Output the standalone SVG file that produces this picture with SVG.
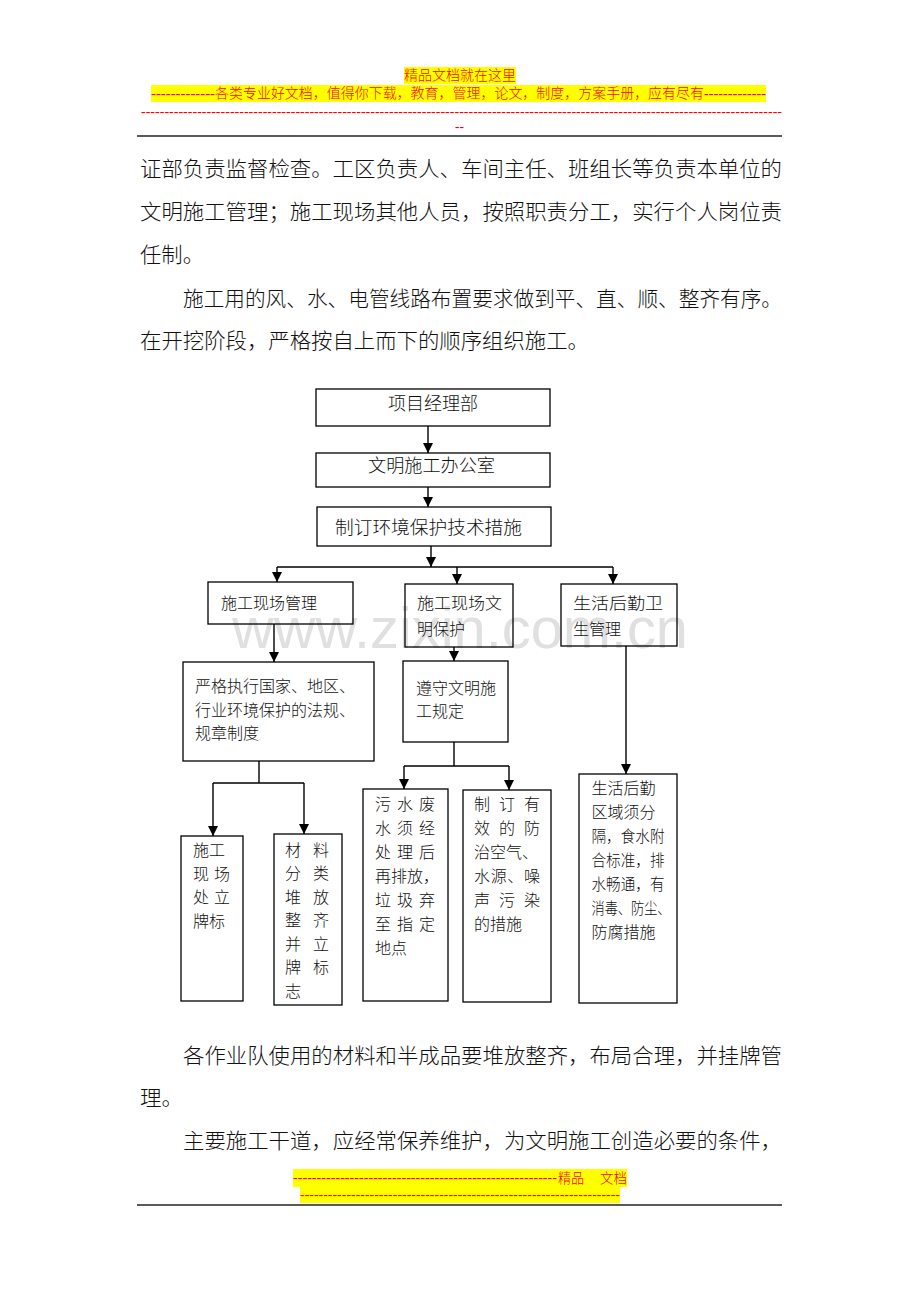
<svg xmlns="http://www.w3.org/2000/svg" width="920" height="1302" viewBox="0 0 920 1302">
<style>
.cjk{font-family:"Noto Sans CJK SC","Noto Sans CJK TC",sans-serif;fill:#111;font-weight:300;}
.body{font-size:21px;}
.hdr{font-family:"Noto Sans CJK SC",sans-serif;font-size:14px;fill:#ff0000;font-weight:300;}
.dash{font-family:"Liberation Serif","Noto Sans CJK SC",serif;font-size:14px;fill:#ff0000;}
.yel{fill:#ffff00;}
.box{fill:none;stroke:#000;stroke-width:1.3;}
.big{font-size:18px;}
.sm{font-size:16px;}
.conn line,.conn polyline{stroke:#000;stroke-width:1.4;fill:none;}
.wm{font-family:"Liberation Sans",Arial,sans-serif;font-size:57px;fill:#e0e0e0;}
</style>
<defs>
<marker id="arr" markerUnits="userSpaceOnUse" markerWidth="10" markerHeight="11" refX="10" refY="5" orient="auto">
<path d="M0,0 L10,5 L0,10 z" fill="#000"/>
</marker>
</defs>
<rect width="920" height="1302" fill="#fff"/>

<g id="header">
<rect class="yel" x="404" y="67" width="112" height="17"/>
<text class="hdr" x="404" y="80" textLength="112" lengthAdjust="spacingAndGlyphs">精品文档就在这里</text>
<rect class="yel" x="151" y="85" width="615" height="17"/>
<text class="dash" x="151" y="98" textLength="64" lengthAdjust="spacingAndGlyphs">-------------</text>
<text class="hdr" x="215" y="98" textLength="489" lengthAdjust="spacingAndGlyphs">各类专业好文档，值得你下载，教育，管理，论文，制度，方案手册，应有尽有</text>
<text class="dash" x="704" y="98" textLength="62" lengthAdjust="spacingAndGlyphs">-------------</text>
<text class="dash" x="141" y="116" textLength="641" lengthAdjust="spacingAndGlyphs">-----------------------------------------------------------------------------------------------------------------------------------------</text>
<text class="dash" x="455" y="131" textLength="9" lengthAdjust="spacingAndGlyphs">--</text>
<line x1="137" y1="136" x2="782" y2="136" stroke="#5a5a5a" stroke-width="2"/>
</g>

<g id="bodytext" class="cjk body">
<text x="140" y="176" textLength="642" lengthAdjust="spacingAndGlyphs">证部负责监督检查。工区负责人、车间主任、班组长等负责本单位的</text>
<text x="140" y="219" textLength="642" lengthAdjust="spacingAndGlyphs">文明施工管理；施工现场其他人员，按照职责分工，实行个人岗位责</text>
<text x="140" y="262" textLength="64" lengthAdjust="spacingAndGlyphs">任制。</text>
<text x="183" y="306" textLength="599" lengthAdjust="spacingAndGlyphs">施工用的风、水、电管线路布置要求做到平、直、顺、整齐有序。</text>
<text x="140" y="348" textLength="449" lengthAdjust="spacingAndGlyphs">在开挖阶段，严格按自上而下的顺序组织施工。</text>
<text x="183" y="1063" textLength="599" lengthAdjust="spacingAndGlyphs">各作业队使用的材料和半成品要堆放整齐，布局合理，并挂牌管</text>
<text x="140" y="1105" textLength="43" lengthAdjust="spacingAndGlyphs">理。</text>
<text x="183" y="1148" textLength="599" lengthAdjust="spacingAndGlyphs">主要施工干道，应经常保养维护，为文明施工创造必要的条件，</text>
</g>

<text class="wm" x="232" y="648" textLength="456" lengthAdjust="spacingAndGlyphs">www.zixin.com.cn</text>

<g id="connectors" class="conn">
<line x1="428" y1="426" x2="428" y2="453" marker-end="url(#arr)"/>
<line x1="428" y1="487" x2="428" y2="507" marker-end="url(#arr)"/>
<line x1="431" y1="546" x2="431" y2="567" marker-end="url(#arr)"/>
<line x1="277" y1="567" x2="613" y2="567"/>
<line x1="277" y1="567" x2="277" y2="582" marker-end="url(#arr)"/>
<line x1="457" y1="567" x2="457" y2="584" marker-end="url(#arr)"/>
<line x1="613" y1="567" x2="613" y2="584" marker-end="url(#arr)"/>
<line x1="274" y1="624" x2="274" y2="662" marker-end="url(#arr)"/>
<line x1="454" y1="647" x2="454" y2="661" marker-end="url(#arr)"/>
<line x1="626" y1="646" x2="626" y2="774" marker-end="url(#arr)"/>
<line x1="259" y1="761" x2="259" y2="783"/>
<line x1="213" y1="783" x2="304" y2="783"/>
<line x1="213" y1="783" x2="213" y2="836" marker-end="url(#arr)"/>
<line x1="304" y1="783" x2="304" y2="834" marker-end="url(#arr)"/>
<line x1="454" y1="742" x2="454" y2="766"/>
<line x1="404" y1="766" x2="509" y2="766"/>
<line x1="404" y1="766" x2="404" y2="789" marker-end="url(#arr)"/>
<line x1="509" y1="766" x2="509" y2="790" marker-end="url(#arr)"/>
</g>

<g id="n1" class="cjk big">
<rect class="box" x="316" y="389" width="234" height="37"/>
<text x="433" y="410" text-anchor="middle">项目经理部</text>
</g>
<g id="n2" class="cjk big">
<rect class="box" x="316" y="453" width="234" height="34"/>
<text x="368" y="472" textLength="127" lengthAdjust="spacingAndGlyphs">文明施工办公室</text>
</g>
<g id="n3" class="cjk big">
<rect class="box" x="317" y="507" width="234" height="39"/>
<text x="335" y="534" textLength="187" lengthAdjust="spacingAndGlyphs">制订环境保护技术措施</text>
</g>
<g id="n4" class="cjk sm">
<rect class="box" x="208" y="582" width="145" height="42"/>
<text x="221" y="609" textLength="96" lengthAdjust="spacingAndGlyphs">施工现场管理</text>
</g>
<g id="n5" class="cjk sm">
<rect class="box" x="405" y="584" width="108" height="63"/>
<text x="417" y="609" textLength="85" lengthAdjust="spacingAndGlyphs">施工现场文</text>
<text x="417" y="634.5">明保护</text>
</g>
<g id="n6" class="cjk sm">
<rect class="box" x="561" y="584" width="116" height="62"/>
<text x="573" y="609" textLength="90" lengthAdjust="spacingAndGlyphs">生活后勤卫</text>
<text x="573" y="634.5">生管理</text>
</g>
<g id="n7" class="cjk sm">
<rect class="box" x="183" y="662" width="191" height="99"/>
<text x="195" y="692" textLength="160" lengthAdjust="spacingAndGlyphs">严格执行国家、地区、</text>
<text x="195" y="715.5" textLength="160" lengthAdjust="spacingAndGlyphs">行业环境保护的法规、</text>
<text x="195" y="739">规章制度</text>
</g>
<g id="n8" class="cjk sm">
<rect class="box" x="403" y="661" width="105" height="81"/>
<text x="416" y="694" textLength="80" lengthAdjust="spacingAndGlyphs">遵守文明施</text>
<text x="416" y="717">工规定</text>
</g>
<g id="n9" class="cjk sm">
<rect class="box" x="181" y="836" width="62" height="165"/>
<text x="193" y="856">施工</text>
<text x="193" y="879.5" textLength="37" lengthAdjust="spacing">现场</text>
<text x="193" y="903" textLength="37" lengthAdjust="spacing">处立</text>
<text x="193" y="927">牌标</text>
</g>
<g id="n10" class="cjk sm">
<rect class="box" x="274" y="834" width="68" height="171"/>
<text x="285" y="855.5" textLength="44" lengthAdjust="spacing">材料</text>
<text x="285" y="879" textLength="44" lengthAdjust="spacing">分类</text>
<text x="285" y="902.5" textLength="44" lengthAdjust="spacing">堆放</text>
<text x="285" y="926" textLength="44" lengthAdjust="spacing">整齐</text>
<text x="285" y="949.5" textLength="44" lengthAdjust="spacing">并立</text>
<text x="285" y="973" textLength="44" lengthAdjust="spacing">牌标</text>
<text x="285" y="996.5">志</text>
</g>
<g id="n11" class="cjk sm">
<rect class="box" x="363" y="789" width="85" height="212"/>
<text x="375" y="809.5" textLength="60" lengthAdjust="spacing">污水废</text>
<text x="375" y="833.5" textLength="60" lengthAdjust="spacing">水须经</text>
<text x="375" y="857.5" textLength="60" lengthAdjust="spacing">处理后</text>
<text x="375" y="881.5">再排放，</text>
<text x="375" y="905.5" textLength="60" lengthAdjust="spacing">垃圾弃</text>
<text x="375" y="929.5" textLength="60" lengthAdjust="spacing">至指定</text>
<text x="375" y="953.5">地点</text>
</g>
<g id="n12" class="cjk sm">
<rect class="box" x="463" y="790" width="88" height="212"/>
<text x="474" y="809.5" textLength="66" lengthAdjust="spacing">制订有</text>
<text x="474" y="833.5" textLength="66" lengthAdjust="spacing">效的防</text>
<text x="474" y="857.5">治空气、</text>
<text x="474" y="881.5" textLength="66" lengthAdjust="spacing">水源、噪</text>
<text x="474" y="905.5" textLength="66" lengthAdjust="spacing">声污染</text>
<text x="474" y="929.5">的措施</text>
</g>
<g id="n13" class="cjk sm">
<rect class="box" x="579" y="774" width="98" height="229"/>
<text x="591.5" y="794">生活后勤</text>
<text x="591.5" y="818">区域须分</text>
<text x="591.5" y="842" textLength="73" lengthAdjust="spacingAndGlyphs">隔，食水附</text>
<text x="591.5" y="866" textLength="73" lengthAdjust="spacingAndGlyphs">合标准，排</text>
<text x="591.5" y="890" textLength="73" lengthAdjust="spacingAndGlyphs">水畅通，有</text>
<text x="591.5" y="914" textLength="79" lengthAdjust="spacingAndGlyphs">消毒、防尘、</text>
<text x="591.5" y="938">防腐措施</text>
</g>

<g id="footer">
<rect class="yel" x="293" y="1169" width="334" height="18"/>
<text class="dash" x="293" y="1182" textLength="264" lengthAdjust="spacingAndGlyphs">--------------------------------------------------------</text>
<text class="hdr" x="558" y="1183" font-size="13" textLength="26" lengthAdjust="spacingAndGlyphs">精品</text>
<text class="hdr" x="600" y="1183" font-size="13" textLength="27" lengthAdjust="spacingAndGlyphs">文档</text>
<rect class="yel" x="300" y="1187" width="320" height="16"/>
<text class="dash" x="300" y="1199" textLength="320" lengthAdjust="spacingAndGlyphs">---------------------------------------------------------------------</text>
<line x1="137" y1="1205" x2="782" y2="1205" stroke="#5a5a5a" stroke-width="2"/>
</g>
</svg>
